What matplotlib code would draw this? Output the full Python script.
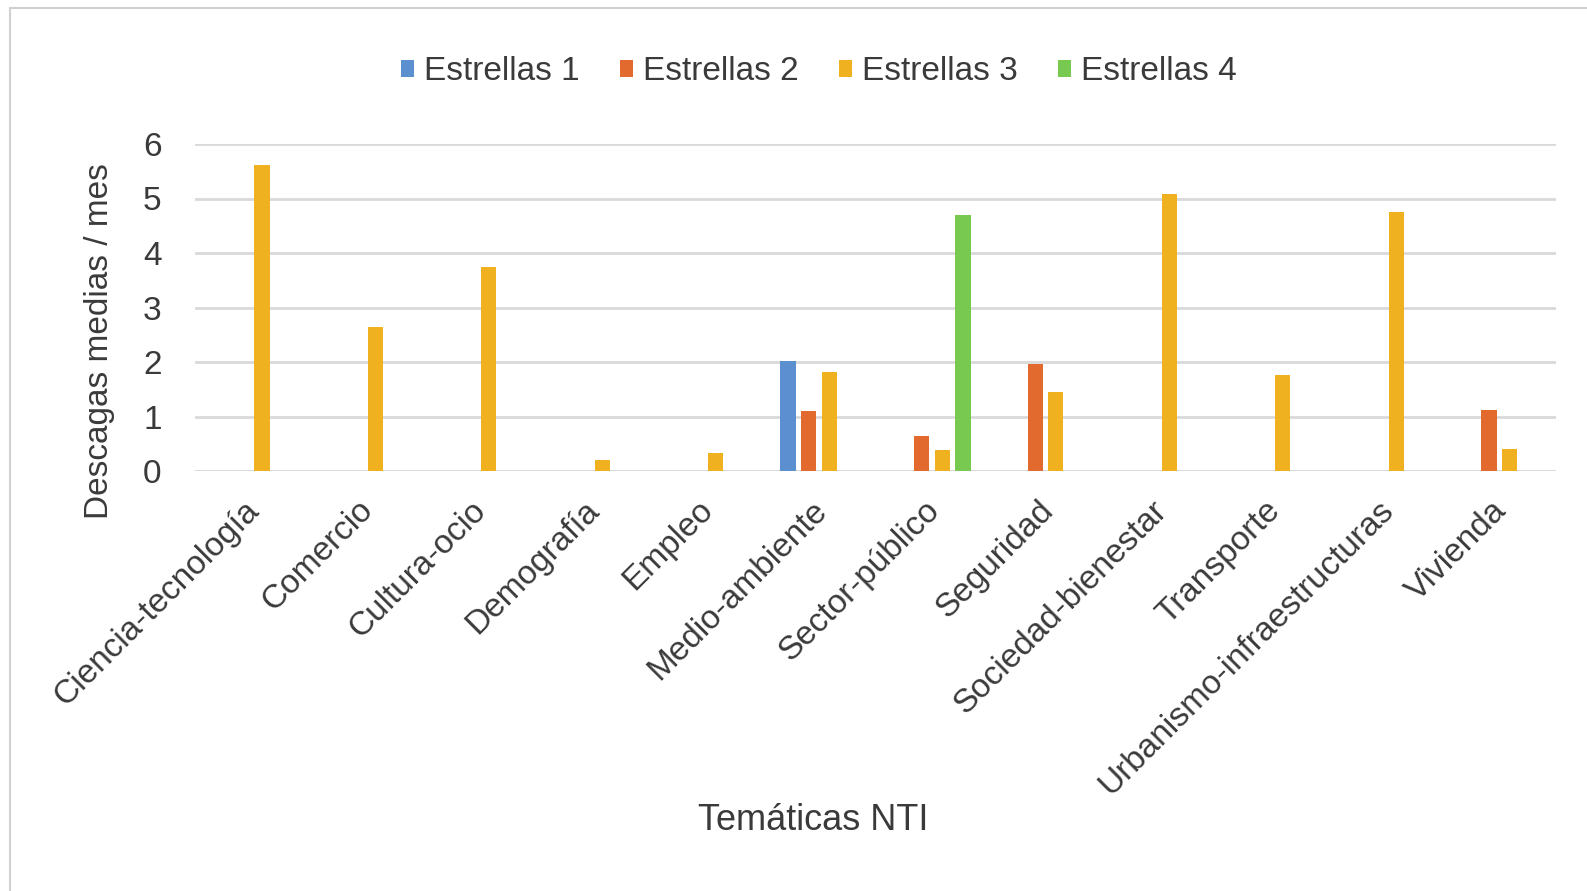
import matplotlib
matplotlib.use("Agg")
import matplotlib.pyplot as plt
import matplotlib.transforms as mtransforms
import numpy as np
from matplotlib.patches import Rectangle, Patch

categories = ["Ciencia-tecnología", "Comercio", "Cultura-ocio", "Demografía", "Empleo",
              "Medio-ambiente", "Sector-público", "Seguridad", "Sociedad-bienestar",
              "Transporte", "Urbanismo-infraestructuras", "Vivienda"]
series_names = ["Estrellas 1", "Estrellas 2", "Estrellas 3", "Estrellas 4"]
estrellas_1 = [0, 0, 0, 0, 0, 2.01, 0, 0, 0, 0, 0, 0]
estrellas_2 = [0, 0, 0, 0, 0, 1.10, 0.64, 1.96, 0, 0, 0, 1.12]
estrellas_3 = [5.62, 2.65, 3.75, 0.20, 0.33, 1.82, 0.38, 1.45, 5.08, 1.77, 4.75, 0.41]
estrellas_4 = [0, 0, 0, 0, 0, 0, 4.69, 0, 0, 0, 0, 0]
yticks = [0, 1, 2, 3, 4, 5, 6]

colors = ["#5b8fd0", "#e36a2e", "#efb120", "#77c94f"]
text_color = "#3a3a3a"

plt.rcParams['font.family'] = ['Liberation Sans', 'DejaVu Sans']

W, H = 1587, 891
fig = plt.figure(figsize=(W / 100, H / 100), dpi=100)
fig.patch.set_facecolor("white")

# chart border
fig.patches.append(Rectangle((10 / W, -0.1), 1.2, 1 - 8 / H + 0.1, transform=fig.transFigure,
                             fill=False, edgecolor="#d0d0d0", linewidth=1.5, zorder=0))

ax = fig.add_axes([195 / W, 1 - 471 / H, (1556 - 195) / W, (471 - 144) / H])
x = np.arange(len(categories))
step = 0.181
width = 0.133
data = [estrellas_1, estrellas_2, estrellas_3, estrellas_4]
for k, (vals, c) in enumerate(zip(data, colors)):
    ax.bar(x + (k - 1.5) * step, vals, width=width, color=c, zorder=3, linewidth=0)

ax.set_xlim(-0.5, len(categories) - 0.5)
ax.set_ylim(0, 6)
ax.set_yticks(yticks)
ax.set_yticklabels([str(v) for v in yticks], fontsize=24, color=text_color)
ax.yaxis.grid(True, color="#d9d9d9", linewidth=2, zorder=0)
ax.set_axisbelow(True)
for s in ax.spines.values():
    s.set_visible(False)
ax.axhline(0, color="#d9d9d9", linewidth=2, zorder=1)
ax.tick_params(axis='y', length=0, pad=24)
ax.tick_params(axis='x', length=0, pad=17)
ax.set_xticks(x)
ax.set_xticklabels(categories, rotation=45, ha='right', rotation_mode='anchor',
                   fontsize=24, color=text_color)
offset = mtransforms.ScaledTranslation(-8 / 100, 0, fig.dpi_scale_trans)
for lab in ax.get_xticklabels():
    lab.set_transform(lab.get_transform() + offset)

fig.text(100 / W, 1 - 341 / H, "Descagas medias / mes", rotation=90, ha='center', va='center',
         fontsize=24, color=text_color)
fig.text(813 / W, 1 - 821 / H, "Temáticas NTI", ha='center', va='center',
         fontsize=26, color=text_color)

handles = [Patch(facecolor=c, edgecolor='none') for c in colors]
fig.legend(handles, series_names, loc='center', bbox_to_anchor=(819 / W, 1 - 72 / H),
           ncol=4, frameon=False, fontsize=24, handlelength=0.4, handleheight=0.4,
           handletextpad=0.3, columnspacing=1.2, labelcolor=text_color)

fig.savefig("out.png", dpi=100, facecolor="white")
